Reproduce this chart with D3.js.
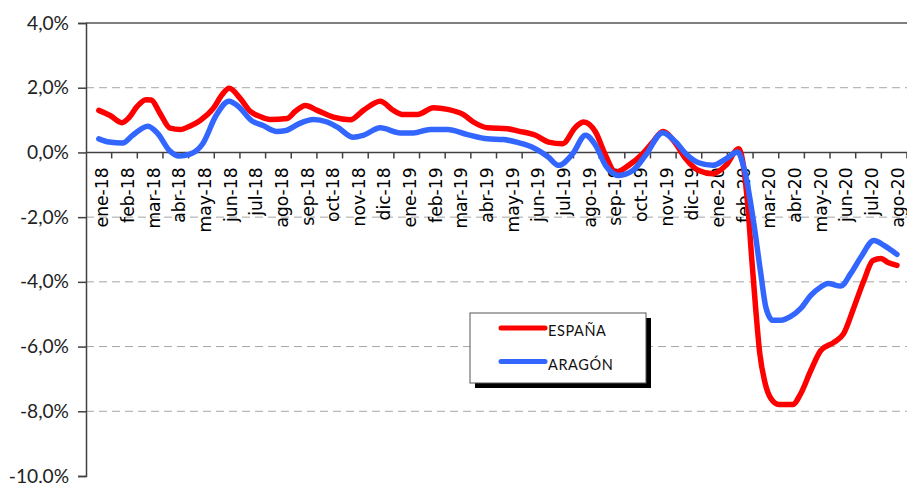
<!DOCTYPE html>
<html>
<head>
<meta charset="utf-8">
<script src="https://cdn.jsdelivr.net/npm/d3@7"></script>
<style>
  body { margin: 0; background: #fff; }
</style>
</head>
<body>
<svg id="chart" width="907" height="483"></svg>
<script>
// month labels on the category axis
const months = ["ene-18","feb-18","mar-18","abr-18","may-18","jun-18","jul-18","ago-18","sep-18","oct-18","nov-18","dic-18",
  "ene-19","feb-19","mar-19","abr-19","may-19","jun-19","jul-19","ago-19","sep-19","oct-19","nov-19","dic-19",
  "ene-20","feb-20","mar-20","abr-20","may-20","jun-20","jul-20","ago-20"]
const yTicks = [4, 2, 0, -2, -4, -6, -8, -10]

// position in months from ene-18 (0 = start of ene-18) and value in %
const tEspana = [0.50,0.94,1.40,1.68,1.97,2.34,2.54,2.89,3.28,3.67,4.06,4.45,4.96,5.31,5.58,6.01,6.40,6.79,7.18,7.84,8.16,8.55,
  9.01,9.64,10.30,10.81,11.47,11.98,12.37,12.92,13.54,14.09,14.71,15.10,15.65,16.43,16.86,17.52,18.03,18.58,19.08,19.40,19.86,
  20.25,20.64,21.15,21.70,22.09,22.48,22.99,23.38,23.88,24.43,24.94,25.44,25.64,25.80,25.95,26.11,26.26,26.46,26.69,27.00,27.55,
  27.86,28.25,28.64,29.15,29.53,29.93,30.32,30.67,30.99,31.26,31.61]
const espana = [1.30,1.14,0.92,1.08,1.40,1.63,1.62,1.20,0.75,0.71,0.82,0.99,1.36,1.79,1.98,1.67,1.27,1.11,1.02,1.05,1.27,1.45,
  1.30,1.09,1.01,1.30,1.58,1.30,1.17,1.17,1.38,1.33,1.17,0.94,0.76,0.73,0.66,0.53,0.32,0.27,0.78,0.94,0.63,
  -0.09,-0.61,-0.40,-0.04,0.32,0.65,0.27,-0.20,-0.56,-0.66,-0.40,0.11,-0.50,-1.70,-3.30,-4.90,-6.20,-7.10,-7.60,-7.79,-7.79,
  -7.45,-6.74,-6.12,-5.87,-5.60,-4.79,-3.96,-3.34,-3.28,-3.40,-3.49]

const tAragon = [0.50,0.90,1.43,1.82,2.41,2.80,3.25,3.64,4.03,4.55,5.07,5.57,5.97,6.44,6.90,7.41,7.80,8.31,8.86,9.40,9.80,
  10.42,10.81,11.47,12.25,12.76,13.42,14.09,14.87,15.65,16.27,16.86,17.40,18.03,18.42,18.97,19.47,19.86,20.25,20.76,21.31,
  21.81,22.48,22.99,23.38,23.88,24.43,24.94,25.40,25.64,26.03,26.30,26.50,26.77,27.08,27.47,27.86,28.25,28.64,28.92,29.42,
  29.81,30.20,30.71,31.10,31.61]
const aragon = [0.42,0.32,0.29,0.53,0.81,0.58,0.06,-0.11,-0.06,0.27,1.14,1.58,1.40,0.99,0.83,0.65,0.68,0.89,1.02,0.94,0.78,
  0.47,0.53,0.76,0.60,0.60,0.71,0.71,0.55,0.42,0.40,0.30,0.16,-0.15,-0.40,-0.04,0.53,0.22,-0.40,-0.71,-0.56,
  -0.09,0.61,0.32,-0.04,-0.32,-0.40,-0.20,0.01,-0.46,-2.20,-3.74,-4.79,-5.19,-5.19,-5.07,-4.82,-4.42,-4.16,-4.05,-4.13,
  -3.74,-3.24,-2.72,-2.87,-3.15]

const series = [
  {name: "ESPAÑA", t: tEspana, v: espana, color: "#ff0000"},
  {name: "ARAGÓN", t: tAragon, v: aragon, color: "#3366ff"}
]

const svg = d3.select("#chart")
const plotLeft = 86, plotRight = 907, plotTop = 23, plotBottom = 476

const x = d3.scaleLinear().domain([0, months.length]).range([plotLeft, plotRight])
const y = d3.scaleLinear().domain([-10, 4]).range([plotBottom, plotTop])

const fmt = v => v.toFixed(1).replace(".", ",") + "%"

// pick a font size so that a sample text is about as long as in the picture
function fitSize(sample, family, base, target) {
  const t = svg.append("text").style("font-family", family).style("font-size", base + "px").text(sample)
  const len = t.node().getComputedTextLength()
  t.remove()
  return len > 0 ? base * target / len : base
}
const yFont = fitSize("4,0%", "Lato, sans-serif", 18, 42)
const xFont = fitSize("ene-18", "'DejaVu Sans', sans-serif", 17, 60)

// horizontal grid lines (dashed), top one solid
svg.append("g")
  .selectAll("line")
  .data(yTicks.filter(d => d != 0 && d != -10))
  .enter()
  .append("line")
  .attr("x1", plotLeft).attr("x2", plotRight)
  .attr("y1", d => y(d)).attr("y2", d => y(d))
  .attr("stroke", d => d == 4 ? "#555" : "#a6a6a6")
  .attr("stroke-width", d => d == 4 ? 1.5 : 1)
  .attr("stroke-dasharray", d => d == 4 ? null : "8,5")

// y axis
const yAxis = d3.axisLeft(y).tickValues(yTicks).tickFormat(fmt).tickSize(8).tickPadding(9)
const gy = svg.append("g")
  .attr("transform", `translate(${plotLeft},0)`)
  .call(yAxis)
gy.select(".domain").attr("stroke", "#404040").attr("stroke-width", 1.5)
gy.selectAll(".tick line").attr("stroke", "#404040").attr("stroke-width", 1.5)
gy.selectAll(".tick text")
  .attr("fill", "#222")
  .style("font-family", "Lato, sans-serif")
  .style("font-size", yFont + "px")

// x axis sits on 0 line, ticks between the months
const gx = svg.append("g").attr("transform", `translate(0,${y(0)})`)
gx.append("line")
  .attr("x1", plotLeft).attr("x2", plotRight)
  .attr("stroke", "#404040").attr("stroke-width", 1.5)
gx.selectAll(".mtick")
  .data(d3.range(1, months.length + 1))
  .enter()
  .append("line")
  .attr("class", "mtick")
  .attr("x1", d => x(d)).attr("x2", d => x(d))
  .attr("y1", 0).attr("y2", 6)
  .attr("stroke", "#404040").attr("stroke-width", 1.5)
gx.selectAll("text")
  .data(months)
  .enter()
  .append("text")
  .attr("transform", (d, i) => `translate(${x(i + 0.5)},15) rotate(-90)`)
  .attr("text-anchor", "end")
  .attr("dy", "0.55em")
  .attr("fill", "#000")
  .style("font-family", "'DejaVu Sans', sans-serif")
  .style("font-size", xFont + "px")
  .text(d => d)

// the two series
const line = d3.line()
  .x(d => x(d[0]))
  .y(d => y(d[1]))
  .curve(d3.curveMonotoneX)

series.forEach(s => {
  svg.append("path")
    .datum(s.t.map((t, i) => [t, s.v[i]]))
    .attr("fill", "none")
    .attr("stroke", s.color)
    .attr("stroke-width", 5.5)
    .attr("stroke-linejoin", "round")
    .attr("stroke-linecap", "round")
    .attr("d", line)
})

// legend with a drop shadow
const lg = svg.append("g").attr("transform", "translate(470,313)")
lg.append("rect").attr("x", 5).attr("y", 5).attr("width", 176).attr("height", 70).attr("fill", "#000")
lg.append("rect").attr("width", 176).attr("height", 70).attr("fill", "#fff").attr("stroke", "#555").attr("stroke-width", 1)
series.forEach((s, i) => {
  const yy = 15 + i * 33.5
  lg.append("line")
    .attr("x1", 31).attr("x2", 75).attr("y1", yy).attr("y2", yy)
    .attr("stroke", s.color).attr("stroke-width", 5).attr("stroke-linecap", "round")
  lg.append("text")
    .attr("x", 78).attr("y", yy + 8)
    .attr("fill", "#111")
    .style("font-family", "Lato, sans-serif")
    .style("font-size", "14.5px")
    .style("letter-spacing", "0.6px")
    .text(s.name)
})
</script>
</body>
</html>
